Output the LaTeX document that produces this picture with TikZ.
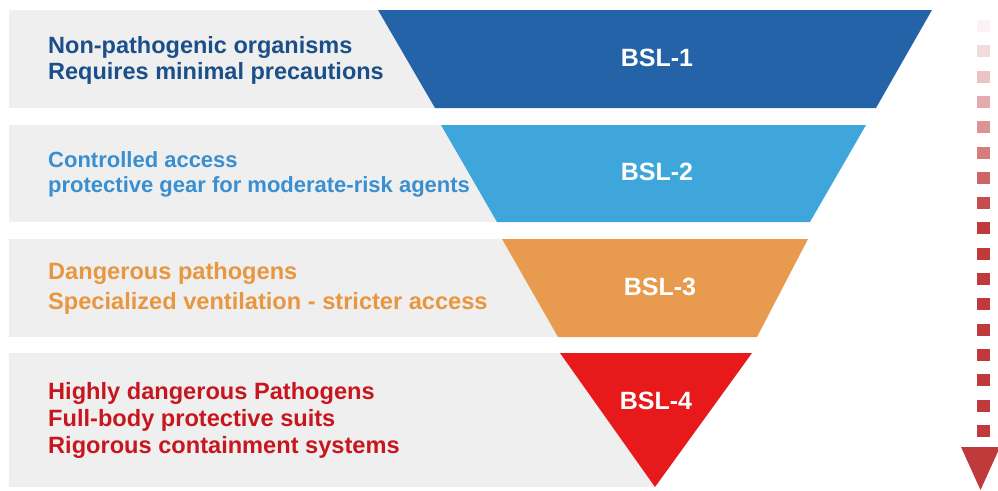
\documentclass[tikz,border=0pt]{standalone}
\usepackage{fontspec}
\setmainfont{Liberation Sans}
\begin{document}
\definecolor{bandgray}{HTML}{EFEFEF}
\definecolor{lvlone}{HTML}{2563A8}
\definecolor{lvltwo}{HTML}{3FA6DC}
\definecolor{lvlthree}{HTML}{E89B4F}
\definecolor{lvlfour}{HTML}{E8191A}
\definecolor{txtone}{HTML}{1B4F8A}
\definecolor{txttwo}{HTML}{3A8FD0}
\definecolor{txtthree}{HTML}{E8963F}
\definecolor{txtfour}{HTML}{C8161E}
\definecolor{arrowred}{HTML}{C0393B}
\begin{tikzpicture}[x=1pt,y=-1pt,
  band/.style={fill=bandgray,draw=none},
  desc/.style={anchor=west,align=left,inner sep=0pt,font=\bfseries\fontsize{23.5}{27}\selectfont},
  level/.style={text=white,inner sep=0pt,font=\bfseries\fontsize{25}{28}\selectfont}]
\useasboundingbox (0,0) rectangle (998,490);
\fill[white] (0,0) rectangle (998,490);

% grey bands behind each level
\fill[band] (9,10) rectangle (440,108);
\fill[band] (9,125) rectangle (500,222);
\fill[band] (9,239) rectangle (560,337);
\fill[band] (9,353) rectangle (655,487);

% the inverted pyramid, one slice per level
\fill[lvlone]   (378,10)  -- (932,10)  -- (876,108) -- (435,108) -- cycle;
\fill[lvltwo]   (441,125) -- (866,125) -- (810,222) -- (497,222) -- cycle;
\fill[lvlthree] (502,239) -- (808,239) -- (757,337) -- (558,337) -- cycle;
\fill[lvlfour]  (560,353) -- (752,353) -- (655,487) -- cycle;

% level names
\node[level] (bsl1) at (657,58)  {BSL-1};
\node[level] (bsl2) at (657,172) {BSL-2};
\node[level] (bsl3) at (660,287) {BSL-3};
\node[level] (bsl4) at (656,401) {BSL-4};

% descriptions
\node[desc,text=txtone] (d1) at (48,60)
  {Non-pathogenic organisms\\[-1pt]Requires minimal precautions};
\node[desc,text=txttwo,font=\bfseries\fontsize{22}{25}\selectfont] (d2) at (48,174.5)
  {Controlled access\\protective gear for moderate-risk agents};
\node[desc,text=txtthree,font=\bfseries\fontsize{23.6}{30}\selectfont] (d3) at (48,288)
  {Dangerous pathogens\\Specialized ventilation - stricter access};
\node[desc,text=txtfour,font=\bfseries\fontsize{23.6}{27}\selectfont] (d4) at (48,420.5)
  {Highly dangerous Pathogens\\Full-body protective suits\\Rigorous containment systems};

% fading dashed arrow on the right
\foreach \i in {0,...,16}{
  \pgfmathsetmacro{\yc}{26+\i*25.3}
  \pgfmathsetmacro{\op}{min(1,0.06+\i*0.12)}
  \fill[arrowred,opacity=\op] (977,\yc-6) rectangle (990,\yc+6);
}
\fill[arrowred] (961,447) -- (1000,447) -- (980.5,490) -- cycle;
\end{tikzpicture}
\end{document}
